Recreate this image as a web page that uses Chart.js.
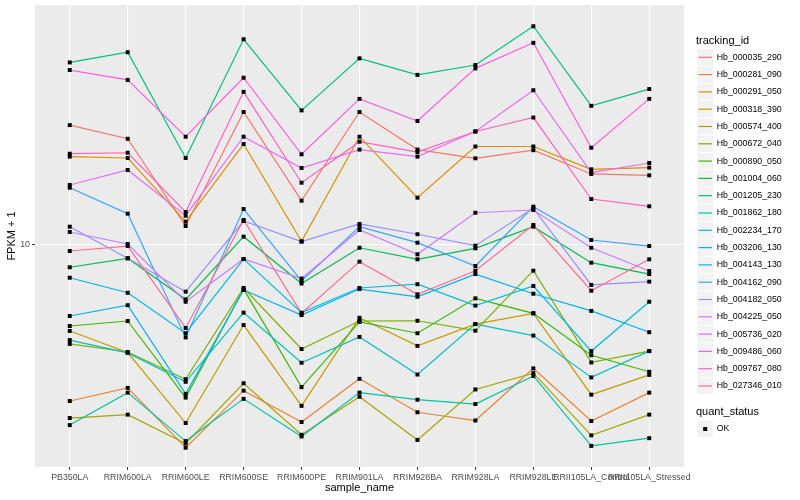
<!DOCTYPE html>
<html>
<head>
<meta charset="utf-8">
<script src="https://cdn.jsdelivr.net/npm/chart.js@4.4.0/dist/chart.umd.min.js"></script>
<style>
  html, body { margin: 0; padding: 0; background: #fff; }
  canvas { display: block; }
</style>
</head>
<body>
<canvas id="fpkm-chart" width="800" height="500"></canvas>
<script>
const samples = ["PB350LA", "RRIM600LA", "RRIM600LE", "RRIM600SE", "RRIM600PE", "RRIM901LA",
  "RRIM928BA", "RRIM928LA", "RRIM928LE", "RRII105LA_Control", "RRII105LA_Stressed"];

const trackingIds = ["Hb_000035_290", "Hb_000281_090", "Hb_000291_050", "Hb_000318_390", "Hb_000574_400",
  "Hb_000672_040", "Hb_000890_050", "Hb_001004_060", "Hb_001205_230", "Hb_001862_180",
  "Hb_002234_170", "Hb_003206_130", "Hb_004143_130", "Hb_004162_090", "Hb_004182_050",
  "Hb_004225_050", "Hb_005736_020", "Hb_009486_060", "Hb_009767_080", "Hb_027346_010"];

// ggplot default hue palette for 20 groups
const colours = ["#F8766D", "#EA8331", "#D89000", "#C09B00", "#A3A500", "#7CAE00", "#39B600", "#00BB4E",
  "#00BF7D", "#00C1A3", "#00BFC4", "#00BAE0", "#00B0F6", "#35A2FF", "#9590FF", "#C77CFF",
  "#E76BF3", "#FA62DB", "#FF62BC", "#FF6C91"];

// FPKM + 1, one value per sample
const hb000035_290 = [25.1, 22.6, 11.57, 27.75, 14.05, 27.75, 20.8, 19.45, 20.7, 17.25, 17.07];
const hb000281_090 = [3.02, 3.34, 2.11, 3.27, 2.57, 3.58, 2.77, 2.60, 3.88, 2.59, 3.22];
const hb000291_050 = [19.7, 19.5, 11.96, 21.7, 10.29, 22.96, 14.38, 21.3, 21.3, 17.88, 18.1];
const hb000318_390 = [5.17, 4.38, 2.55, 5.41, 2.91, 5.72, 4.61, 5.45, 5.92, 3.17, 3.69];
const hb000574_400 = [2.65, 2.72, 2.18, 3.46, 2.33, 3.12, 2.24, 3.30, 3.74, 2.32, 2.72];
const hb000672_040 = [4.68, 4.40, 3.57, 7.19, 4.50, 5.58, 5.59, 5.18, 8.21, 4.06, 4.43];
const hb000890_050 = [5.37, 5.58, 3.10, 7.13, 3.36, 5.54, 5.08, 6.64, 5.92, 4.29, 3.78];
const hb001004_060 = [8.43, 9.03, 6.59, 10.66, 7.44, 9.79, 8.96, 9.75, 11.51, 8.73, 8.00];
const hb001205_230 = [40.6, 43.9, 19.5, 48.5, 28.1, 41.9, 36.9, 39.8, 53.6, 29.1, 33.1];
const hb001862_180 = [2.51, 3.22, 2.22, 3.07, 2.30, 3.22, 3.05, 2.95, 3.66, 2.14, 2.27];
const hb002234_170 = [4.82, 4.37, 3.50, 5.95, 4.05, 4.94, 3.70, 5.45, 4.99, 3.62, 4.43];
const hb003206_130 = [7.78, 6.93, 5.08, 8.98, 5.95, 7.19, 7.40, 6.28, 7.30, 4.43, 6.47];
const hb004143_130 = [5.80, 6.30, 3.19, 7.08, 5.84, 7.13, 6.72, 8.00, 6.88, 6.03, 5.12];
const hb004162_090 = [15.52, 12.72, 4.92, 13.18, 7.59, 11.51, 10.18, 8.51, 13.42, 10.39, 9.92];
const hb004182_050 = [11.51, 9.03, 6.99, 12.02, 10.26, 11.75, 10.86, 9.95, 13.25, 7.36, 7.55];
const hb004225_050 = [11.05, 10.08, 6.47, 8.98, 7.73, 11.22, 9.31, 12.81, 13.08, 9.79, 8.19];
const hb005736_020 = [15.85, 17.78, 12.52, 22.96, 18.06, 20.8, 19.7, 23.9, 32.8, 17.42, 18.76];
const hb009486_060 = [38.3, 35.5, 22.96, 36.1, 20.06, 30.7, 25.9, 38.8, 47.2, 21.1, 30.7];
const hb009767_080 = [20.15, 20.3, 12.88, 32.4, 16.13, 22.1, 20.4, 23.9, 26.6, 14.23, 13.46];
const hb027346_010 = [9.55, 9.92, 5.29, 12.12, 5.92, 8.80, 6.85, 8.21, 11.66, 7.04, 8.96];

const seriesValues = [hb000035_290, hb000281_090, hb000291_050, hb000318_390, hb000574_400,
  hb000672_040, hb000890_050, hb001004_060, hb001205_230, hb001862_180,
  hb002234_170, hb003206_130, hb004143_130, hb004162_090, hb004182_050,
  hb004225_050, hb005736_020, hb009486_060, hb009767_080, hb027346_010];

const quantStatus = ["OK"];
const yTicks = [10];

const fontFamily = "'Liberation Sans', Arial, Helvetica, sans-serif";

const panelBackground = {
  id: 'panelBackground',
  beforeDraw(chart) {
    const { ctx, chartArea: a } = chart;
    ctx.save();
    ctx.fillStyle = '#EBEBEB';
    ctx.fillRect(a.left, a.top, a.right - a.left, a.bottom - a.top);
    ctx.restore();
  }
};

// ggplot style legends on the right
const ggLegend = {
  id: 'ggLegend',
  afterDraw(chart) {
    const ctx = chart.ctx;
    ctx.save();
    ctx.textBaseline = 'middle';
    ctx.textAlign = 'left';
    ctx.fillStyle = '#000';
    ctx.font = '11px ' + fontFamily;
    ctx.fillText('tracking_id', 696, 40.5);
    ctx.font = '8.8px ' + fontFamily;
    trackingIds.forEach((id, i) => {
      const cy = 57.3 + i * 17.3;
      ctx.fillStyle = '#F2F2F2';
      ctx.fillRect(697.3, cy - 8.2, 15.7, 16.4);
      ctx.strokeStyle = colours[i];
      ctx.lineWidth = 1.2;
      ctx.beginPath();
      ctx.moveTo(698.5, cy);
      ctx.lineTo(712, cy);
      ctx.stroke();
      ctx.fillStyle = '#000';
      ctx.fillText(id, 716.7, cy);
    });

    ctx.font = '11px ' + fontFamily;
    ctx.fillText('quant_status', 696, 412.3);
    ctx.font = '8.8px ' + fontFamily;
    quantStatus.forEach((s, i) => {
      const cy = 429 + i * 17.3;
      ctx.fillStyle = '#F2F2F2';
      ctx.fillRect(697.3, cy - 8.2, 15.7, 16.4);
      ctx.fillStyle = '#000';
      ctx.fillRect(703.2, cy - 2, 4, 4);
      ctx.fillText(s, 716.7, cy);
    });
    ctx.restore();
  }
};

const lineSets = trackingIds.map((id, i) => ({
  label: id,
  data: seriesValues[i].map((v, j) => ({ x: j, y: v })),
  borderColor: colours[i],
  backgroundColor: colours[i],
  borderWidth: 1.2,
  pointRadius: 0,
  fill: false,
  tension: 0,
  order: 100 - i
}));

const pointSets = trackingIds.map((id, i) => ({
  label: id + ' ' + quantStatus[0],
  data: seriesValues[i].map((v, j) => ({ x: j, y: v })),
  showLine: false,
  pointStyle: 'rect',
  pointRadius: 2.8,
  pointBackgroundColor: '#000',
  pointBorderWidth: 0,
  order: 0
}));

new Chart(document.getElementById('fpkm-chart'), {
  type: 'line',
  data: { datasets: lineSets.concat(pointSets) },
  plugins: [panelBackground, ggLegend],
  options: {
    responsive: false,
    devicePixelRatio: 1,
    animation: false,
    layout: { padding: { top: 5, right: 116, left: 0, bottom: 0 } },
    plugins: {
      legend: { display: false },
      tooltip: { enabled: false }
    },
    scales: {
      x: {
        type: 'linear',
        min: -0.6,
        max: samples.length - 0.4,
        afterBuildTicks: axis => { axis.ticks = samples.map((s, i) => ({ value: i })); },
        afterFit: axis => { axis.height = 33; axis.paddingLeft = 0; axis.paddingRight = 0; },
        ticks: {
          autoSkip: false,
          maxRotation: 0,
          minRotation: 0,
          padding: 2,
          color: '#4D4D4D',
          font: { family: fontFamily, size: 8.8 },
          callback: v => samples[v]
        },
        grid: { color: '#FFFFFF', lineWidth: 1.1, tickLength: 3, tickColor: '#333333', tickWidth: 1 },
        border: { display: false },
        title: {
          display: true,
          text: 'sample_name',
          color: '#000',
          font: { family: fontFamily, size: 11 },
          padding: { top: 0, bottom: 5 }
        }
      },
      y: {
        type: 'logarithmic',
        min: Math.pow(10, 0.26),
        max: Math.pow(10, 1.8),
        afterBuildTicks: axis => { axis.ticks = yTicks.map(v => ({ value: v })); },
        afterFit: axis => { axis.width = 35; axis.paddingTop = 0; axis.paddingBottom = 0; },
        ticks: {
          padding: 2,
          color: '#4D4D4D',
          font: { family: fontFamily, size: 8.8 },
          callback: v => String(v)
        },
        grid: { color: '#FFFFFF', lineWidth: 1.1, tickLength: 3, tickColor: '#333333', tickWidth: 1 },
        border: { display: false },
        title: {
          display: true,
          text: 'FPKM + 1',
          color: '#000',
          font: { family: fontFamily, size: 11 },
          padding: { top: 5, bottom: 0 }
        }
      }
    }
  }
});
</script>
</body>
</html>
